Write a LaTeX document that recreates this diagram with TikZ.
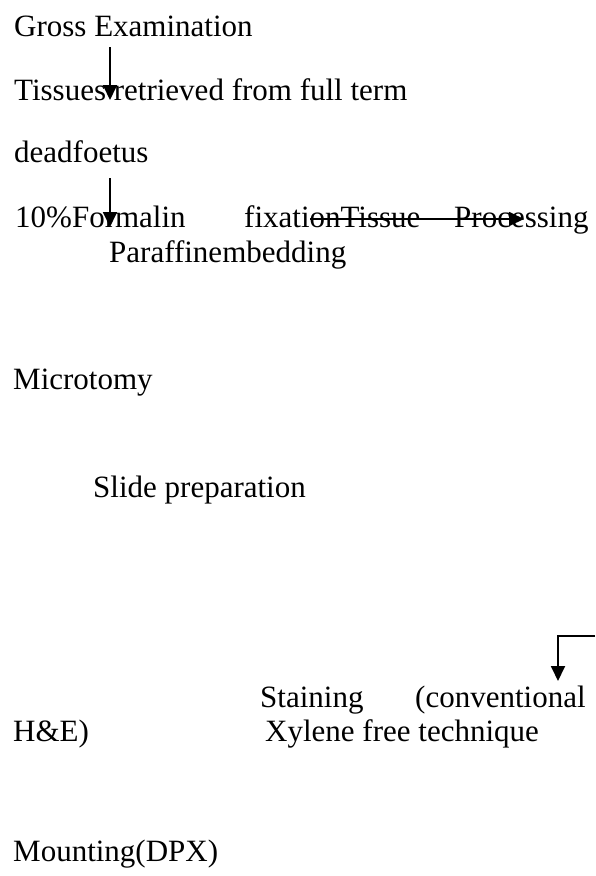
\documentclass[tikz,border=0pt]{standalone}
\usepackage{fontspec}
\setmainfont{Liberation Serif}
\usetikzlibrary{arrows.meta}

\begin{document}
\begin{tikzpicture}[x=1pt,y=-1pt]
 \useasboundingbox (0,0) rectangle (595,876);
 \tikzstyle{every node} = [anchor=base west,inner sep=0pt,font=\fontsize{31}{37}\selectfont]
 \tikzstyle{flow} = [-{Triangle[length=15pt,width=14pt]},line width=1.8pt]
 \node (gross) at (14,36) {Gross Examination};
 \node (tissues) at (14,100) {Tissues retrieved from full term};
 \node (foetus) at (14,162) {deadfoetus};
 \node (formalin) at (15,227) {10\%Formalin};
 \node (fixation) at (244,227) {fixationTissue};
 \node (processing) at (454,227) {Processing};
 \node (paraffin) at (109,262) {Paraffinembedding};
 \node (microtomy) at (13,389) {Microtomy};
 \node (slide) at (93,497) {Slide preparation};
 \node (staining) at (260,707) {Staining};
 \node (conv) at (415,707) {(conventional};
 \node (he) at (13,741) {H\&E)};
 \node (xylene) at (265,741) {Xylene free technique};
 \node (mounting) at (13,861) {Mounting(DPX)};
 \coordinate (g1) at (110,47);
 \coordinate (t1) at (110,100);
 \coordinate (d1) at (110,178);
 \coordinate (f1) at (110,227);
 \coordinate (x1) at (310,219);
 \coordinate (p1) at (524,219);
 \coordinate (edge) at (595,636);
 \coordinate (bend) at (558,636);
 \coordinate (s1) at (558,681);
 \draw [flow] (g1) -- (t1);
 \draw [flow] (d1) -- (f1);
 \draw [flow] (x1) -- (p1);
 \draw [flow] (edge) -- (bend) -- (s1);
\end{tikzpicture}
\end{document}
